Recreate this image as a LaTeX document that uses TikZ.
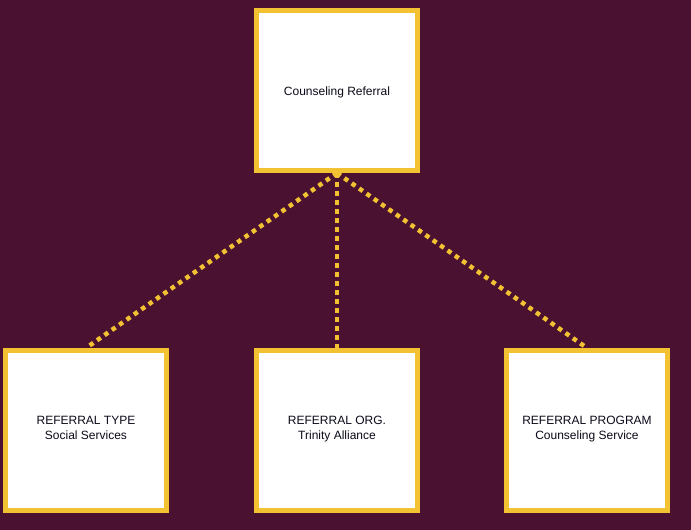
\documentclass[tikz,border=0pt]{standalone}
\usepackage{fontspec}
\setmainfont{Liberation Sans}
\usetikzlibrary{positioning}
\definecolor{maroon}{HTML}{4A1131}
\definecolor{gold}{HTML}{F2C232}
\definecolor{ink}{HTML}{0A0A1A}
\begin{document}
\begin{tikzpicture}[x=1pt,y=-1pt,
    refbox/.style={draw=gold,line width=5pt,fill=white,minimum width=161pt,
      minimum height=160pt,align=center,text=ink,
      font=\fontsize{12}{15}\selectfont\rule{0pt}{14pt},execute at end node=\strut},
    link/.style={gold,line width=4.5pt,dash pattern=on 4.5pt off 4.5pt}]
  % Background
  \fill[maroon] (0,0) rectangle (691,530);
  \useasboundingbox (0,0) rectangle (691,530);
  % Boxes
  \node[refbox] (referral) at (337,90.5) {Counseling Referral};
  \node[refbox,below=175pt of referral] (org) {REFERRAL ORG.\\Trinity Alliance};
  \node[refbox,left=85pt of org] (type) {REFERRAL TYPE\\Social Services};
  \node[refbox,right=84pt of org] (program) {REFERRAL PROGRAM\\Counseling Service};
  % Dotted links
  \foreach \n in {type,org,program}
    \draw[link] (referral.south) -- (\n.north);
\end{tikzpicture}
\end{document}
